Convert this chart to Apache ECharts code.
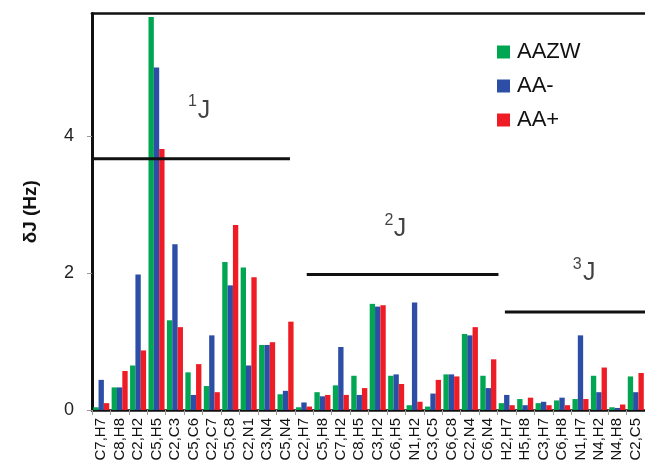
<!DOCTYPE html>
<html>
<head>
<meta charset="utf-8">
<script src="https://cdn.jsdelivr.net/npm/echarts@6/dist/echarts.min.js"></script>
<style>
  html, body { margin: 0; padding: 0; background: #fff; }
  #chart { width: 645px; height: 475px; }
</style>
</head>
<body>
<div id="chart"></div>
<script>
// Coupling pairs, grouped as 1J (11), 2J (11) and 3J (8)
const pairs = [
  'C7,H7', 'C8,H8', 'C2,H2', 'C5,H5', 'C2,C3', 'C5,C6', 'C2,C7', 'C5,C8', 'C2,N1', 'C3,N4', 'C5,N4',
  'C2,H7', 'C5,H8', 'C7,H2', 'C8,H5', 'C3,H2', 'C6,H5', 'N1,H2', 'C3,C5', 'C6,C8', 'C2,N4', 'C6,N4',
  'H2,H7', 'H5,H8', 'C3,H7', 'C6,H8', 'N1,H7', 'N4,H2', 'N4,H8', 'C2,C5'
];

// δJ in Hz for each form
const aazw = [
  0.04, 0.33, 0.65, 5.74, 1.31, 0.55, 0.35, 2.16, 2.08, 0.95, 0.23,
  0.04, 0.26, 0.36, 0.50, 1.55, 0.50, 0.07, 0.05, 0.52, 1.11, 0.50,
  0.10, 0.16, 0.10, 0.14, 0.16, 0.50, 0.04, 0.49
];
const aaMinus = [
  0.44, 0.33, 1.98, 5.00, 2.42, 0.22, 1.09, 1.82, 0.65, 0.95, 0.28,
  0.11, 0.20, 0.92, 0.22, 1.51, 0.52, 1.57, 0.24, 0.52, 1.09, 0.32,
  0.22, 0.07, 0.12, 0.18, 1.09, 0.26, 0.03, 0.26
];
const aaPlus = [
  0.10, 0.57, 0.87, 3.81, 1.21, 0.67, 0.26, 2.70, 1.94, 0.99, 1.29,
  0.05, 0.22, 0.22, 0.32, 1.53, 0.38, 0.12, 0.44, 0.49, 1.21, 0.74,
  0.07, 0.18, 0.07, 0.07, 0.16, 0.62, 0.08, 0.54
];

const seriesNames = ['AAZW', 'AA-', 'AA+'];
const seriesColors = ['#00a651', '#2c4ea6', '#ee1c25'];
const yTicks = [0, 2, 4];

// Group brackets: [start, end, level] on the continuous index scale
const brackets = [
  [-0.5, 10.24, 3.67],
  [11.15, 21.55, 1.98],
  [21.9, 29.5, 1.43]
];
// Group captions: superscript order and the J
const orderMarks = [[4.95, 4.50, '1'], [15.61, 2.77, '2'], [25.82, 2.13, '3']];
const jMarks = [[5.58, 4.36], [16.21, 2.64], [26.47, 2.00]];

const FONT = '"Liberation Sans", Arial, sans-serif';

const series = [aazw, aaMinus, aaPlus].map((vals, i) => ({
  name: seriesNames[i],
  type: 'bar',
  xAxisIndex: 0,
  yAxisIndex: 0,
  data: vals,
  barGap: '0%',
  barCategoryGap: '13%',
  itemStyle: { color: seriesColors[i] },
  silent: true
}));

brackets.forEach(b => {
  series.push({
    type: 'line',
    xAxisIndex: 1,
    yAxisIndex: 0,
    data: [[b[0], b[2]], [b[1], b[2]]],
    symbol: 'none',
    lineStyle: { color: '#111', width: 3 },
    silent: true,
    z: 5
  });
});

series.push({
  type: 'scatter',
  xAxisIndex: 1,
  yAxisIndex: 0,
  symbolSize: 0,
  data: orderMarks.map(m => ({ value: [m[0], m[1]], mark: m[2] })),
  label: {
    show: true,
    position: 'inside',
    formatter: p => p.data.mark,
    fontFamily: FONT,
    fontSize: 16,
    color: '#111'
  },
  silent: true
});
series.push({
  type: 'scatter',
  xAxisIndex: 1,
  yAxisIndex: 0,
  symbolSize: 0,
  data: jMarks,
  label: {
    show: true,
    position: 'inside',
    formatter: 'J',
    fontFamily: FONT,
    fontSize: 25,
    color: '#111'
  },
  silent: true
});

const chart = echarts.init(document.getElementById('chart'));
chart.setOption({
  animation: false,
  backgroundColor: '#fff',
  grid: { left: 92, right: 0, top: 13.5, bottom: 65 },
  legend: {
    data: seriesNames,
    orient: 'vertical',
    left: 492,
    top: 36,
    itemWidth: 13,
    itemHeight: 13,
    itemGap: 12,
    icon: 'rect',
    textStyle: { fontFamily: FONT, fontSize: 22, color: '#111', padding: [0, 0, 0, 2] }
  },
  xAxis: [
    {
      type: 'category',
      data: pairs,
      position: 'bottom',
      axisLine: { lineStyle: { color: '#111', width: 2.7 } },
      axisTick: { show: true, length: 5, lineStyle: { color: '#999', width: 1 } },
      axisLabel: {
        interval: 0,
        rotate: 90,
        margin: 8,
        fontFamily: FONT,
        fontSize: 15,
        color: '#111'
      }
    },
    {
      type: 'value',
      position: 'top',
      min: -0.5,
      max: 29.5,
      axisLine: { show: true, onZero: false, lineStyle: { color: '#111', width: 2.7 } },
      axisTick: { show: false },
      axisLabel: { show: false },
      splitLine: { show: false }
    }
  ],
  yAxis: {
    type: 'value',
    min: 0,
    max: 5.79,
    interval: 2,
    name: 'δJ (Hz)',
    nameLocation: 'middle',
    nameGap: 52,
    nameTextStyle: { fontFamily: FONT, fontSize: 19, fontWeight: 'bold', color: '#111' },
    axisLine: { show: true, onZero: false, lineStyle: { color: '#111', width: 3 } },
    axisTick: { show: true, length: 5, customValues: yTicks, lineStyle: { color: '#999' } },
    axisLabel: { margin: 18, customValues: yTicks, fontFamily: FONT, fontSize: 18, color: '#222' },
    splitLine: { show: false }
  },
  series: series
});
</script>
</body>
</html>
